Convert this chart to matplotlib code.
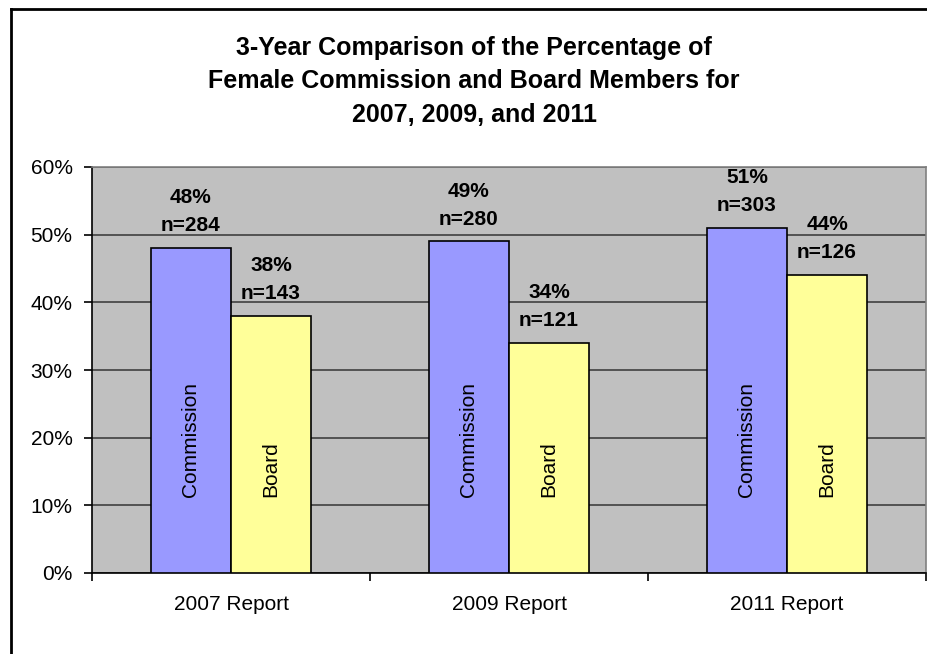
import numpy as np
import matplotlib.pyplot as plt
from matplotlib.lines import Line2D
from matplotlib.ticker import FixedLocator, PercentFormatter

# data
reports = ['2007 Report', '2009 Report', '2011 Report']
commission = [48, 49, 51]
board = [38, 34, 44]
commission_n = [284, 280, 303]
board_n = [143, 121, 126]

plt.rcParams['font.family'] = ['Liberation Sans', 'DejaVu Sans']

fig = plt.figure(figsize=(9.27, 6.54), dpi=100)
ax = fig.add_axes([92 / 927, 1 - 573 / 654, 834 / 927, 406 / 654])
ax.set_facecolor('#C0C0C0')

x = np.arange(len(reports))
w = 0.288
ax.bar(x - w / 2, commission, w, color='#9999FF', edgecolor='black', linewidth=1.2, zorder=3)
ax.bar(x + w / 2, board, w, color='#FFFF99', edgecolor='black', linewidth=1.2, zorder=3)

# value labels above bars, series names inside
for i in range(len(reports)):
    ax.text(x[i] - w / 2, commission[i] + 1.9, f'{commission[i]}%\nn={commission_n[i]}',
            ha='center', va='bottom', fontsize=15, fontweight='bold', linespacing=1.6, zorder=4)
    ax.text(x[i] + w / 2, board[i] + 1.9, f'{board[i]}%\nn={board_n[i]}',
            ha='center', va='bottom', fontsize=15, fontweight='bold', linespacing=1.6, zorder=4)
    ax.text(x[i] - w / 2, 11.2, 'Commission', rotation=90, ha='center', va='bottom',
            fontsize=15, zorder=4)
    ax.text(x[i] + w / 2, 11.2, 'Board', rotation=90, ha='center', va='bottom',
            fontsize=15, zorder=4)

ax.set_xlim(-0.5, 2.5)
ax.set_ylim(0, 60)
ax.set_yticks(range(0, 61, 10))
ax.yaxis.set_major_formatter(PercentFormatter(decimals=0))
ax.grid(axis='y', color='#404040', linewidth=1.2, zorder=1)

ax.set_xticks(x)
ax.set_xticklabels(reports)
ax.xaxis.set_minor_locator(FixedLocator([-0.5, 0.5, 1.5, 2.5]))
ax.tick_params(axis='x', which='major', length=0, pad=16, labelsize=15)
ax.tick_params(axis='x', which='minor', length=6, width=1.2, direction='out')
ax.tick_params(axis='y', length=6, width=1.2, direction='out', labelsize=15, pad=8)

for side in ['left', 'bottom']:
    ax.spines[side].set_color('black')
    ax.spines[side].set_linewidth(1.2)
for side in ['top', 'right']:
    ax.spines[side].set_color('#808080')
    ax.spines[side].set_linewidth(1.2)

fig.text(474 / 927, 1 - 81.5 / 654,
         '3-Year Comparison of the Percentage of\nFemale Commission and Board Members for\n2007, 2009, and 2011',
         ha='center', va='center', fontsize=18, fontweight='bold', linespacing=1.52)

# chart frame
fig.add_artist(Line2D([11 / 927, 11 / 927], [0, 1 - 9 / 654], color='black', linewidth=2))
fig.add_artist(Line2D([11 / 927, 926 / 927], [1 - 9 / 654, 1 - 9 / 654], color='black', linewidth=2))

fig.savefig('out.png', dpi=100)
